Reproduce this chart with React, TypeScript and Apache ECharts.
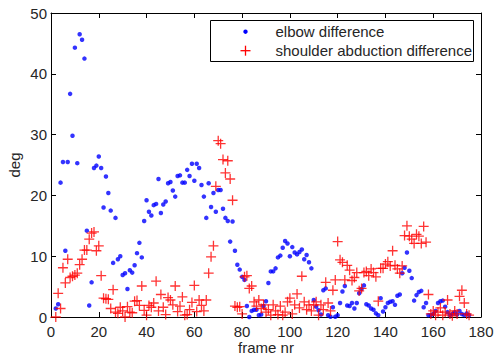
import React, { useEffect, useRef } from "react";
import * as echarts from "echarts";

const FIRST_FRAME = 2;

const elbowDiff: number[] = [
  1.4, 2.1, 22.1, 25.5, 10.9, 25.5, 36.7, 29.8, 44.3, 25.3,
  46.5, 45.6, 42.5, 14.2, 1.9, 5.7, 24.5, 24.9, 26.4, 24.5,
  18.0, 23.1, 20.4, 17.5, 8.9, 16.3, 9.5, 10.0, 6.9, 7.2,
  4.6, 7.7, 7.3, 8.5, 10.5, 12.2, 9.8, 15.8, 19.2, 17.3,
  16.7, 18.4, 18.6, 22.7, 17.1, 18.5, 19.0, 22.0, 22.2, 20.8,
  19.8, 23.2, 23.3, 22.1, 22.1, 24.2, 23.2, 25.2, 22.4, 25.2,
  24.5, 21.7, 19.8, 16.3, 22.0, 18.1, 20.4, 17.3, 20.9, 20.9,
  17.8, 16.3, 15.8, 12.4, 15.7, 10.9, 8.6, 7.8, 6.6, 6.1,
  1.8, 0.0, 1.0, 1.2, 1.2, 0.3, 0.4, 1.8, 2.6, 5.6,
  7.5, 7.5, 8.0, 9.8, 10.1, 11.4, 12.5, 12.1, 10.0, 11.5,
  10.6, 10.3, 10.7, 11.1, 9.5, 10.2, 9.0, 8.0, 2.8, 1.7,
  1.1, 0.4, 4.4, 4.7, 0.3, 0.05, 1.6, 0.05, 0.3, 2.3,
  4.2, 5.1, 1.9, 1.8, 2.3, 1.4, 2.3, 3.9, 4.6, 5.2,
  2.1, 1.9, 1.4, 1.2, 0.6, 0.3, 3.1, 0.9, 1.6, 2.3,
  2.5, 2.6, 2.0, 3.5, 3.7, 7.2, 8.1, 10.6, 7.6, 6.4,
  2.7, 3.6, 4.1, 4.3, 1.6, 2.3, 0.3, 0.3, 0.5, 1.0,
  2.3, 2.6, 2.7, 1.7, 0.8, 0.3, 0.5, 0.8, 0.4, 1.0,
  0.5, 0.3, 0.6, 0.3,
];

const shoulderDiff: number[] = [
  0.0, 3.9, 1.4, 8.1, 5.6, 9.5, 6.5, 6.7, 6.9, 7.2,
  8.6, 9.5, 11.0, 11.0, 12.8, 13.8, 14.0, 10.9, 11.7, 6.8,
  3.1, 3.0, 2.9, 1.4, 4.5, 0.8, 0.6, 1.6, 1.0, 0.0,
  1.7, 0.8, 0.7, 2.6, 2.7, 1.9, 5.1, 1.1, 0.3, 1.9,
  1.6, 2.3, 5.9, 1.0, 3.7, 1.6, 0.4, 3.2, 2.8, 2.0,
  5.1, 0.9, 1.8, 3.3, 0.3, 0.4, 1.2, 2.4, 5.2, 0.9,
  2.8, 1.9, 1.0, 2.8, 7.2, 9.9, 11.7, 21.5, 29.0, 28.5,
  25.9, 23.7, 25.7, 22.7, 19.2, 1.8, 1.6, 1.7, 0.5, 6.6,
  6.8, 4.7, 5.1, 2.5, 1.8, 2.8, 1.4, 2.0, 0.8, 1.2,
  0.3, 2.0, 1.0, 0.4, 1.8, 0.3, 0.8, 2.5, 3.1, 0.5,
  2.0, 3.8, 1.5, 6.7, 2.5, 1.2, 2.0, 1.0, 2.0, 2.5,
  0.3, 2.0, 1.2, 5.7, 2.3, 1.0, 4.4, 6.1, 12.4, 9.4,
  9.0, 6.1, 8.5, 7.7, 6.0, 6.5, 7.3, 4.3, 4.7, 7.3,
  7.5, 6.8, 7.9, 7.3, 6.6, 2.6, 8.0, 8.0, 8.7, 9.1,
  8.4, 10.9, 8.5, 7.9, 7.2, 8.4, 13.4, 15.0, 13.3, 12.8,
  12.1, 13.6, 13.3, 12.1, 14.9, 12.3, 3.7, 0.5, 1.0, 0.3,
  0.8, 1.5, 0.3, 0.8, 2.8, 0.5, 0.2, 1.0, 0.5, 3.4,
  4.4, 2.3, 0.5, 0.3,
];

const legendNames = ["elbow difference", "shoulder abduction difference"];
const xLabel = "frame nr";
const yLabel = "deg";

const FONT = '"Liberation Sans", Arial, Helvetica, sans-serif';
const TEXT = "#262626";

const PLUS =
  "path://M4.35,0H5.65V4.35H10V5.65H5.65V10H4.35V5.65H0V4.35H4.35Z";

export default function App() {
  const ref = useRef<HTMLDivElement>(null);

  useEffect(() => {
    if (!ref.current) return;
    const chart = echarts.init(ref.current, undefined, { renderer: "svg" });

    const blueData = elbowDiff.map((v, i) => [FIRST_FRAME + i, v]);
    const redData = shoulderDiff.map((v, i) => [FIRST_FRAME + i, v]);

    const axisCommon = {
      type: "value" as const,
      axisLine: { show: true, onZero: false, lineStyle: { color: "#000", width: 1 } },
      axisTick: { show: true, inside: true, length: 5, lineStyle: { color: "#000" } },
      splitLine: { show: false },
    };

    chart.setOption({
      animation: false,
      backgroundColor: "#fff",
      grid: {
        left: 51,
        right: 13,
        top: 13,
        bottom: 41,
        containLabel: false,
        outerBoundsMode: "none",
      },
      xAxis: [
        {
          ...axisCommon,
          position: "bottom",
          min: 0,
          max: 180,
          interval: 20,
          name: xLabel,
          nameLocation: "middle",
          nameGap: 23,
          nameMoveOverlap: false,
          nameTextStyle: { fontFamily: FONT, fontSize: 15, lineHeight: 15, color: TEXT },
          axisLabel: { margin: 7, fontFamily: FONT, fontSize: 15, color: TEXT },
        },
        {
          ...axisCommon,
          position: "top",
          min: 0,
          max: 180,
          interval: 20,
          axisLabel: { show: false },
        },
      ],
      yAxis: [
        {
          ...axisCommon,
          position: "left",
          min: 0,
          max: 50,
          interval: 10,
          name: yLabel,
          nameLocation: "middle",
          nameGap: 29,
          nameRotate: 90,
          nameMoveOverlap: false,
          nameTextStyle: { fontFamily: FONT, fontSize: 15, color: TEXT },
          axisLabel: { margin: 4, fontFamily: FONT, fontSize: 15, color: TEXT },
        },
        {
          ...axisCommon,
          position: "right",
          min: 0,
          max: 50,
          interval: 10,
          axisLabel: { show: false },
        },
      ],
      series: [
        {
          name: legendNames[0],
          type: "scatter",
          xAxisIndex: 0,
          yAxisIndex: 0,
          symbol: "circle",
          symbolSize: 4.5,
          itemStyle: { color: "#0000ff" },
          data: blueData,
        },
        {
          name: legendNames[1],
          type: "scatter",
          xAxisIndex: 0,
          yAxisIndex: 0,
          symbol: PLUS,
          symbolSize: 10,
          itemStyle: { color: "#ff0000" },
          data: redData,
        },
      ],
      graphic: [
        {
          type: "group",
          z: 100,
          children: [
            {
              type: "rect",
              shape: { x: 210.5, y: 20.5, width: 263, height: 41 },
              style: { fill: "#fff", stroke: "#000", lineWidth: 1 },
            },
            {
              type: "circle",
              shape: { cx: 245.5, cy: 31.7, r: 2.2 },
              style: { fill: "#0000ff" },
            },
            {
              type: "line",
              shape: { x1: 240.5, y1: 50.7, x2: 250.5, y2: 50.7 },
              style: { stroke: "#ff0000", lineWidth: 1.3 },
            },
            {
              type: "line",
              shape: { x1: 245.5, y1: 45.7, x2: 245.5, y2: 55.7 },
              style: { stroke: "#ff0000", lineWidth: 1.3 },
            },
            {
              type: "text",
              x: 275.5,
              y: 31.7,
              style: {
                text: legendNames[0],
                fontFamily: FONT,
                fontSize: 15,
                fill: TEXT,
                verticalAlign: "middle",
                align: "left",
              },
            },
            {
              type: "text",
              x: 275.5,
              y: 50.7,
              style: {
                text: legendNames[1],
                fontFamily: FONT,
                fontSize: 15,
                fill: TEXT,
                verticalAlign: "middle",
                align: "left",
              },
            },
          ],
        },
      ],
    });

    return () => chart.dispose();
  }, []);

  return (
    <div
      ref={ref}
      style={{ position: "fixed", left: 0, top: 0, width: 494, height: 358 }}
    />
  );
}
